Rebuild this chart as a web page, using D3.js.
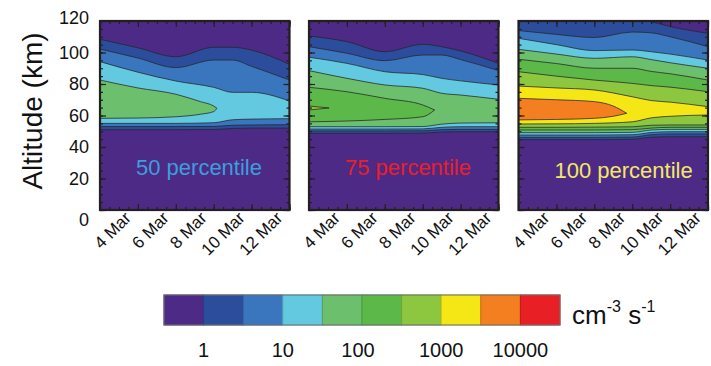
<!DOCTYPE html>
<html>
<head>
<meta charset="utf-8">
<script src="https://cdn.jsdelivr.net/npm/d3@7"></script>
<style>
  body { margin: 0; background: #fff; }
  svg { display: block; font-family: 'Liberation Sans', Arial, Helvetica, sans-serif; }
</style>
</head>
<body>
<svg width="711" height="366"></svg>
<script>
// colour classes (0 = below 1st contour)
const levelColors = ['#4d2a86', '#2c4c9c', '#3a76bd', '#62c9e1', '#6bbf6d', '#5cb848', '#8dc63f', '#f4e715', '#f47f20', '#e91f26']

const days = [3, 5, 7, 9, 10, 11, 13]
const dateTicks = [4, 6, 8, 10, 12]
const dateLabels = ['4 Mar', '6 Mar', '8 Mar', '10 Mar', '12 Mar']
const altTicks = [0, 20, 40, 60, 80, 100, 120]

const barLabels = ['1', '10', '100', '1000', '10000']
const barLabelPos = [1, 3, 4.9, 7, 9]

const panelTitles = ['50 percentile', '75 percentile', '100 percentile']
const titleColors = ['#3d9edc', '#e8202a', '#f3e866']

// contour levels: altitude (km) of lower and upper edge of each level along the days
const p50 = [
    { level: 1, days: days, top: [108.4, 103, 97.3, 103.3, 103.3, 101.5, 92.5], bottom: [51, 51, 51, 51.1, 51.8, 52, 52] },
    { level: 2, days: days, top: [102.2, 96.5, 90.4, 95.2, 95.2, 91.2, 82.5], bottom: [53, 53, 53, 53.1, 53.8, 54, 54.2] },
    { level: 3, days: days, top: [94.2, 87.5, 81.9, 77.9, 74.7, 74.7, 69.2], bottom: [55, 55, 55, 55.4, 57.3, 57.7, 58] },
    { level: 4, days: [3, 5, 7, 8.3, 9, 9.17], top: [82.5, 77.5, 73.5, 68.8, 66, 64.6], bottom: [58.2, 58.4, 59.2, 60.8, 62.5, 64.6] }
]

const p75 = [
    { level: 1, days: days, top: [110.5, 106.9, 100.5, 105.2, 103.7, 101, 93.1], bottom: [48.7, 48.7, 48.7, 48.8, 49.5, 49.7, 49.7] },
    { level: 2, days: days, top: [103.7, 99.5, 94.8, 98.4, 98.4, 95.5, 88.5], bottom: [50.2, 50.2, 50.2, 50.3, 51, 51.2, 51.2] },
    { level: 3, days: days, top: [97, 93.1, 87.8, 86, 83.6, 82, 79.4], bottom: [51.4, 51.4, 51.4, 51.5, 52.5, 52.9, 52.9] },
    { level: 4, days: days, top: [88.5, 83.6, 79.4, 77.3, 74.1, 73, 70.3], bottom: [52.9, 52.9, 52.9, 53, 54.5, 55.2, 55.4] },
    { level: 5, days: [3, 5, 7, 9, 9.63], top: [77.9, 75.1, 70.9, 66.7, 63.5], bottom: [56, 56.5, 57.5, 59.2, 63.5] },
    { level: 6, days: [3, 4.06], top: [66, 64.8], bottom: [63.5, 64.8] }
]

const p100 = [
    { level: 1, days: days, top: [121, 121, 120.5, 121, 119.5, 116.5, 112.2], bottom: [44.7, 44.7, 44.7, 44.9, 46.2, 46.5, 46.5] },
    { level: 2, days: days, top: [113.9, 111.5, 109.5, 113, 112.5, 110, 103.7], bottom: [46.1, 46.1, 46.1, 46.3, 47.8, 48.3, 48.3] },
    { level: 3, days: days, top: [109, 105, 101.2, 101.6, 100.5, 99, 95.2], bottom: [47.6, 47.6, 47.6, 47.8, 49.2, 49.7, 49.7] },
    { level: 4, days: days, top: [102, 99, 96.3, 97.3, 95.5, 93.5, 90], bottom: [49.1, 49.1, 49.1, 49.3, 50.8, 51.2, 51.2] },
    { level: 5, days: days, top: [95.7, 93, 90, 90, 88, 86.5, 82.5], bottom: [50.8, 50.8, 50.8, 51, 52, 52.5, 52.5] },
    { level: 6, days: days, top: [87.8, 85, 82.5, 80.4, 79, 78, 75.1], bottom: [52.5, 52.5, 52.6, 52.8, 53.8, 54, 54] },
    { level: 7, days: days, top: [78.7, 77.5, 76.2, 71.9, 69.5, 68.5, 65.6], bottom: [54.6, 54.7, 55, 56, 58.5, 59.5, 60.3] },
    { level: 8, days: [3, 5, 7, 8, 8.71], top: [70.9, 70, 68.8, 66, 61.4], bottom: [57.2, 57.5, 58.2, 59.5, 61.4] }
]

const panels = [p50, p75, p100]

const panelX = [100, 309, 518.5]
const panelW = 189.5
const panelTop = 21
const panelH = 189

const svg = d3.select('svg')

const color = d3.scaleOrdinal().domain(d3.range(levelColors.length)).range(levelColors)

const x = d3.scaleLinear().domain([3, 13]).range([0, panelW])
const y = d3.scaleLinear().domain([0, 120]).range([panelH, 0])

const area = d3.area()
    .x(d => x(d.day))
    .y0(d => y(d.lo))
    .y1(d => y(d.hi))
    .curve(d3.curveMonotoneX)

svg.append('defs').append('clipPath')
    .attr('id', 'plotclip')
    .append('rect')
    .attr('width', panelW)
    .attr('height', panelH)

panels.forEach((levels, i) => {
    const g = svg.append('g')
        .attr('transform', `translate(${panelX[i]},${panelTop})`)

    const plot = g.append('g').attr('clip-path', 'url(#plotclip)')

    plot.append('rect')
        .attr('width', panelW)
        .attr('height', panelH)
        .attr('fill', color(0))

    plot.selectAll('.band')
        .data(levels)
        .enter().append('path')
        .attr('class', 'band')
        .attr('d', lv => area(lv.days.map((d, k) => ({ day: d, lo: lv.bottom[k], hi: lv.top[k] }))))
        .attr('fill', lv => color(lv.level))
        .attr('stroke', '#262626')
        .attr('stroke-width', 0.9)
        .attr('stroke-opacity', 0.85)

    // ticks on all four sides, pointing inward
    const xMajor = d3.range(3, 13.01, 2)
    const xMinor = d3.range(3, 13.01, 0.5)
    const yMinor = d3.range(0, 120.01, 5)

    const addAxis = (axis, tr, size, vals) => {
        const a = g.append('g')
            .attr('transform', tr)
            .call(axis.tickValues(vals).tickSize(-size).tickFormat(''))
        a.select('.domain').remove()
        a.selectAll('line').attr('stroke', '#231f20').attr('stroke-width', 1.2)
    }
    addAxis(d3.axisBottom(x), `translate(0,${panelH})`, 3, xMinor)
    addAxis(d3.axisBottom(x), `translate(0,${panelH})`, 6, xMajor)
    addAxis(d3.axisTop(x), 'translate(0,0)', 3, xMinor)
    addAxis(d3.axisTop(x), 'translate(0,0)', 6, xMajor)
    addAxis(d3.axisLeft(y), 'translate(0,0)', 3, yMinor)
    addAxis(d3.axisLeft(y), 'translate(0,0)', 6, altTicks)
    addAxis(d3.axisRight(y), `translate(${panelW},0)`, 3, yMinor)
    addAxis(d3.axisRight(y), `translate(${panelW},0)`, 6, altTicks)

    g.append('rect')
        .attr('width', panelW)
        .attr('height', panelH)
        .attr('fill', 'none')
        .attr('stroke', '#231f20')
        .attr('stroke-width', 2.2)

    // date labels
    g.selectAll('.xlab')
        .data(dateTicks)
        .enter().append('text')
        .attr('class', 'xlab')
        .attr('text-anchor', 'end')
        .attr('font-size', 17)
        .attr('fill', '#111')
        .attr('transform', (d) => `translate(${x(d) + 13},${panelH + 9}) rotate(-45)`)
        .text((d, k) => dateLabels[k])

    g.append('text')
        .attr('x', x(4.9))
        .attr('y', y(i === 2 ? 25.4 : 27))
        .attr('dy', '0.35em')
        .attr('font-size', 22)
        .attr('fill', titleColors[i])
        .text(panelTitles[i])

    if (i === 0) {
        const yl = g.append('g')
            .call(d3.axisLeft(y).tickValues(altTicks).tickSize(0).tickPadding(11))
        yl.select('.domain').remove()
        yl.selectAll('text')
            .attr('font-size', 18)
            .attr('fill', '#111')
            .attr('font-family', null)
            .attr('dy', d => d === 0 ? '0.85em' : d === 120 ? '0.12em' : '0.32em')
    }
})

svg.append('text')
    .attr('text-anchor', 'middle')
    .attr('transform', 'translate(42,111) rotate(-90)')
    .attr('font-size', 28)
    .attr('fill', '#111')
    .text('Altitude (km)')

// colour bar
const bx = d3.scaleLinear().domain([0, levelColors.length]).range([164, 560])
const barTop = 295
const barH = 30

svg.selectAll('.box')
    .data(d3.range(levelColors.length))
    .enter().append('rect')
    .attr('class', 'box')
    .attr('x', d => bx(d))
    .attr('y', barTop)
    .attr('width', bx(1) - bx(0))
    .attr('height', barH)
    .attr('fill', d => color(d))
    .attr('stroke', d => d3.color(color(d)).darker(0.5))
    .attr('stroke-width', 1)

svg.append('rect')
    .attr('x', bx(0))
    .attr('y', barTop)
    .attr('width', bx(levelColors.length) - bx(0))
    .attr('height', barH)
    .attr('fill', 'none')
    .attr('stroke', '#777')
    .attr('stroke-width', 1)

svg.selectAll('.blab')
    .data(barLabels)
    .enter().append('text')
    .attr('class', 'blab')
    .attr('x', (d, k) => bx(barLabelPos[k]))
    .attr('y', 357)
    .attr('text-anchor', 'middle')
    .attr('font-size', 20)
    .attr('fill', '#111')
    .text(d => d)

const unit = svg.append('text')
    .attr('x', 572)
    .attr('y', 324)
    .attr('font-size', 26)
    .attr('fill', '#111')
unit.append('tspan').text('cm')
unit.append('tspan').attr('font-size', 16).attr('dy', -12).text('-3')
unit.append('tspan').attr('dy', 12).text(' s')
unit.append('tspan').attr('font-size', 16).attr('dy', -12).text('-1')
</script>
</body>
</html>
